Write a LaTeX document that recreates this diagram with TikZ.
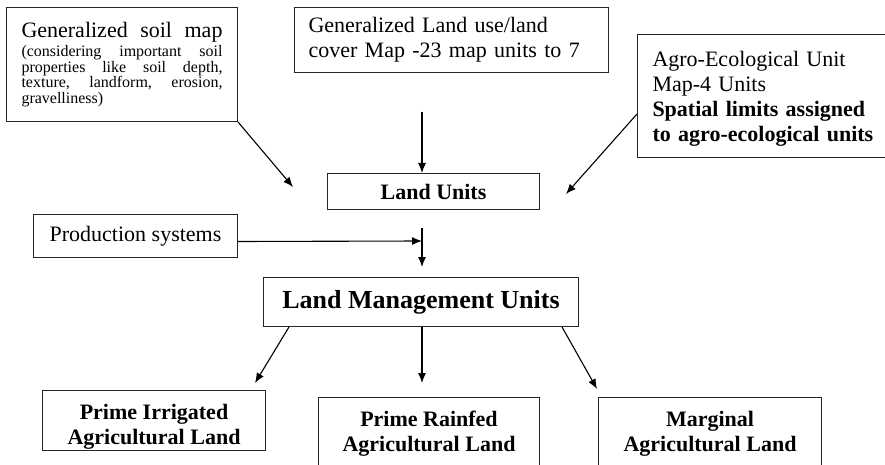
\documentclass[tikz,border=0pt]{standalone}
\usepackage{fontspec}
\setmainfont{Liberation Serif}
\usetikzlibrary{arrows.meta,positioning}
\newcommand{\spreadline}[1]{\leavevmode\hbox to 201pt{#1}}

\begin{document}
\begin{tikzpicture}[
  x=1pt, y=-1pt,
  box/.style={rectangle, draw=black!85, line width=1pt, anchor=north west, inner sep=0pt, align=center, font=\fontsize{22}{25}\selectfont},
  textbox/.style={box, align=left, inner xsep=14pt},
  unit/.style={box, font=\bfseries\fontsize{22}{25}\selectfont},
  arrow/.style={-{Latex[length=10pt,width=8pt]}, line width=1.1pt, black}
]
\useasboundingbox (0,0) rectangle (885,465);
\clip (0,0) rectangle (885,465);

% Input maps
\node[textbox, text width=201pt, inner xsep=15pt, minimum height=114pt, font=\fontsize{16}{15.5}\selectfont] (soil) at (6,7)
  {\spreadline{\fontsize{22}{22}\selectfont Generalized\hfill soil\hfill map}\\[2pt]
   \spreadline{(considering\hfill important\hfill soil}\\
   \spreadline{properties\hfill like\hfill soil\hfill depth,}\\
   \spreadline{texture,\hfill landform,\hfill erosion,}\\
   gravelliness)};
\node[textbox, text width=286pt, minimum height=65pt] (landuse) at (294,7) {Generalized Land use/land\\cover Map -23 map units to 7};
\node[textbox, text width=223pt, inner xsep=15pt, minimum height=123pt] (agro) at (637,34)
  {\rule{0pt}{20pt}Agro-Ecological Unit\\Map-4 Units\\\textbf{Spatial limits assigned}\\\textbf{to agro-ecological units}};

% Land units
\node[unit, minimum width=212pt, minimum height=36pt] (landunits) at (327,173) {Land Units};
\node[box, minimum width=204pt, minimum height=43pt] (prod) at (33,214) {Production systems};
\node[unit, minimum width=315pt, minimum height=49pt, font=\bfseries\fontsize{26}{30}\selectfont] (lmu) at (263,277) {Land Management Units};

% Land classes
\node[unit, minimum width=223pt, minimum height=60pt] (irrigated) at (42,390) {\rule{0pt}{27pt}Prime Irrigated\\Agricultural Land};
\node[unit, minimum width=221pt, minimum height=73pt] (rainfed) at (318,397) {Prime Rainfed\\Agricultural Land};
\node[unit, minimum width=223pt, minimum height=73pt] (marginal) at (598,397) {Marginal\\Agricultural Land};

% Arrow ends
\coordinate (soiltip) at (293,187);
\coordinate (agrotip) at (566,194);
\coordinate (joint) at (422,241);
\coordinate (jtop) at (422,228);
\coordinate (lmutip) at (422,267);
\coordinate (irrtip) at (255,383);
\coordinate (raintip) at (422,383);
\coordinate (margtip) at (597,389);

% Arrows
\draw[arrow] (soil.south east) -- (soiltip);
\draw[arrow, shorten <=39pt] (landuse.south -| joint) -- (joint |- landunits.north);
\draw[arrow] ([yshift=44pt]agro.south west) -- (agrotip);
\draw[arrow] ([yshift=-5.5pt]prod.east) -- (joint);
\draw[arrow] (jtop) -- (lmutip);
\draw[arrow] ([xshift=26pt]lmu.south west) -- (irrtip);
\draw[arrow] (raintip |- lmu.south) -- (raintip);
\draw[arrow] ([xshift=-17pt]lmu.south east) -- (margtip);

\end{tikzpicture}
\end{document}
